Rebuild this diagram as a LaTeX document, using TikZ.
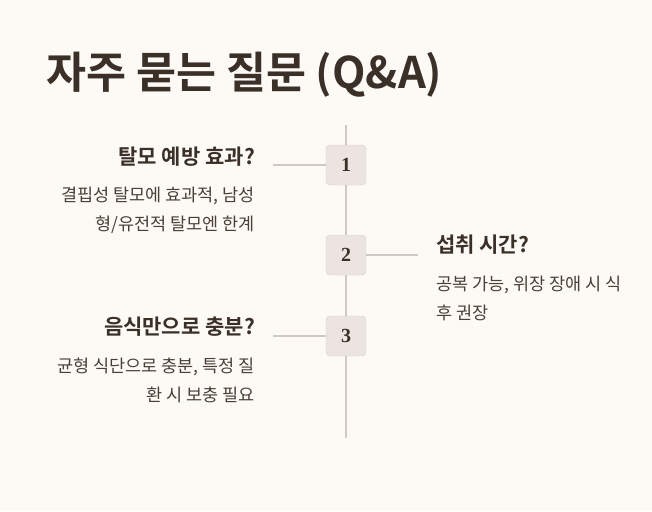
\documentclass[tikz,border=0pt]{standalone}
\usepackage{fontspec}
\setmainfont{Noto Sans CJK KR}
\newfontfamily\kb{Noto Sans CJK KR Bold}
\newfontfamily\numf{Liberation Serif}
\definecolor{bg}{HTML}{FDFAF6}
\definecolor{ink}{HTML}{3B3028}
\definecolor{body}{HTML}{4A4038}
\definecolor{ln}{HTML}{CFC8C3}
\definecolor{boxf}{HTML}{ECE4E0}
\definecolor{boxd}{HTML}{D8CEC9}
\begin{document}
\begin{tikzpicture}[x=1pt,y=-1pt,
  numbox/.style={draw=boxd,fill=boxf,rounded corners=4pt,minimum width=40pt,minimum height=40pt,inner sep=0pt,font=\numf\bfseries\fontsize{20}{20}\selectfont,text=ink},
  conn/.style={draw=ln,line width=1.2pt},
  head/.style={font=\kb\fontsize{21}{21}\selectfont,text=ink,inner sep=0pt},
  txt/.style={font=\fontsize{17.5}{29}\selectfont,text=body,inner sep=0pt}]
\fill[bg] (0,0) rectangle (652,511);
\useasboundingbox (0,0) rectangle (652,511);
\node[anchor=base west,font=\kb\fontsize{43.5}{43.5}\selectfont,text=ink,inner sep=0pt] (title) at (46,88) {자주 묻는 질문 (Q\&A)};
\coordinate (top) at (346,125); \coordinate (bot) at (346,438);
\draw[conn] (top) -- (bot);
\node[numbox] (n1) at (346,165) {1};
\node[numbox] (n2) at (346,255) {2};
\node[numbox] (n3) at (346,336) {3};
\coordinate (l1) at (273,165); \coordinate (r2) at (418,255); \coordinate (l3) at (273,336);
\draw[conn] (l1) -- (n1.west);
\draw[conn] (n2.east) -- (r2);
\draw[conn] (l3) -- (n3.west);
\node[head,anchor=base east] (h1) at (255,164) {탈모 예방 효과?};
\node[txt,anchor=base east,align=right] (t1) at (255,230) {결핍성 탈모에 효과적, 남성\\형/유전적 탈모엔 한계};
\node[head,anchor=base west] (h2) at (436,252) {섭취 시간?};
\node[txt,anchor=base west,align=left] (t2) at (436,319) {공복 가능, 위장 장애 시 식\\후 권장};
\node[head,anchor=base east] (h3) at (255,334) {음식만으로 충분?};
\node[txt,anchor=base east,align=right] (t3) at (255,401) {균형 식단으로 충분, 특정 질\\환 시 보충 필요};
\end{tikzpicture}
\end{document}
